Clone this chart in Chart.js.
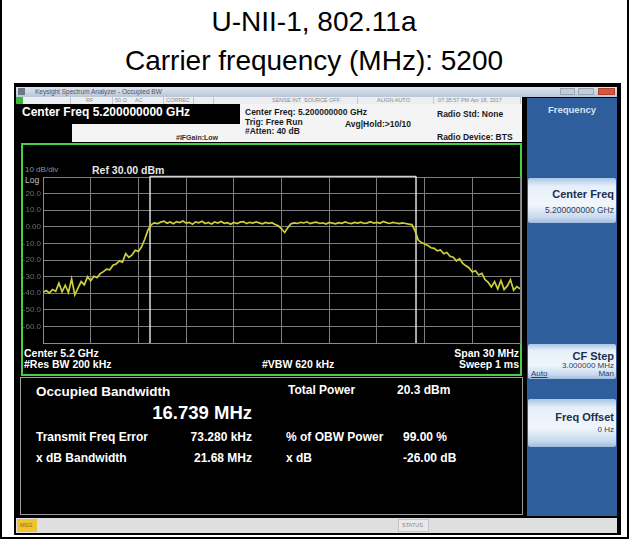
<!DOCTYPE html>
<html>
<head>
<meta charset="utf-8">
<script src="https://cdn.jsdelivr.net/npm/chart.js@4/dist/chart.umd.min.js"></script>
<style>
  body { margin: 0; width: 629px; height: 539px; position: relative; background: #fff; overflow: hidden;
         font-family: 'Liberation Sans', Arial, sans-serif; }
  .box { position: absolute; box-sizing: border-box; }
  .lbl { position: absolute; white-space: nowrap; line-height: 1; transform: translateY(-50%); }
  .btn { position: absolute; box-sizing: border-box; left: 528px; width: 88px; border-radius: 2px;
         background: linear-gradient(#a9c6e6 0%, #e6eff9 18%, #f1f6fb 60%, #c6d9ee 88%, #9dbbe0 100%); }
  #plot { position: absolute; left: 20px; top: 170px; }
</style>
</head>
<body>
<canvas id="plot" width="502" height="180"></canvas>
<script>
// sweep: 5185 .. 5215 MHz (center 5.2 GHz, span 30 MHz), level in dBm
const sweepStart = 5185
const sweepStop = 5215
const sweepStep = 0.2
const levels = [
  -39.5, -38.4, -39.9, -37.8, -38.9, -34.0, -39.2, -35.2, -39.6, -31.5,
  -41.0, -37.0, -33.0, -35.0, -30.0, -32.5, -29.8, -30.6, -28.2, -27.0,
  -25.5, -25.9, -23.2, -22.4, -20.6, -21.3, -16.2, -18.4, -17.0, -14.1,
  -14.8, -12.0, -7.5, -2.0, 1.2, 2.4, 1.9, 2.8, 3.4, 2.1,
  2.9, 1.8, 3.1, 2.6, 3.5, 2.2, 2.7, 1.6, 3.0, 2.4,
  3.3, 2.0, 2.6, 1.7, 2.9, 2.3, 3.2, 2.1, 2.5, 1.5,
  2.6, 2.0, 2.8, 3.1, 1.9, 2.7, 2.2, 2.9, 2.4, 1.8,
  2.6, 2.1, 2.5, 1.4, 0.6, -1.2, -3.4, -0.5, 1.8, 2.4,
  2.0, 2.7, 2.3, 3.0, 1.9, 2.5, 2.8, 2.0, 2.4, 1.7,
  2.6, 2.2, 1.8, 2.5, 2.1, 2.9, 2.3, 1.9, 2.6, 2.2,
  2.8, 2.0, 2.4, 3.1, 2.2, 2.7, 2.1, 3.2, 2.5, 2.0,
  2.6, 2.3, 1.9, 2.4, 2.0, 1.6, 1.3, -2.5, -8.0, -9.5,
  -10.4, -11.2, -12.6, -13.0, -14.5, -14.0, -16.2, -15.5, -17.8, -18.3,
  -20.5, -19.2, -22.0, -23.5, -24.8, -27.2, -26.5, -29.0, -28.0, -31.8,
  -33.5, -36.2, -33.0, -37.5, -32.4, -37.8, -35.6, -31.9, -38.2, -36.0,
  -37.4
]
// occupied bandwidth edges (MHz), 16.739 MHz apart
const obwEdges = [5191.73, 5208.46]
const refLevel = 30
const bottomLevel = -70
// y tick labels from the top line (ref) down to the bottom line
const yTickLabels = ['', '20.0', '10.0', '0.00', '-10.0', '-20.0', '-30.0', '-40.0', '-50.0', '-60.0', '']

const FONT = "'Liberation Sans', Arial, sans-serif"

function box(x, y, w, h, style) {
  const d = document.createElement('div')
  d.className = 'box'
  d.style.left = x + 'px'; d.style.top = y + 'px'
  d.style.width = w + 'px'; d.style.height = h + 'px'
  Object.assign(d.style, style || {})
  document.body.appendChild(d)
  return d
}

function label(text, x, y, size, color, bold, align) {
  const d = document.createElement('div')
  d.className = 'lbl'
  d.textContent = text
  d.style.top = y + 'px'
  d.style.fontSize = size + 'px'
  d.style.color = color
  d.style.fontWeight = bold ? 'bold' : 'normal'
  if (align === 'right') d.style.right = (629 - x) + 'px'
  else if (align === 'center') { d.style.left = x + 'px'; d.style.transform = 'translate(-50%,-50%)' }
  else d.style.left = x + 'px'
  document.body.appendChild(d)
  return d
}

// outer frame + titles
box(0, -4, 629, 543, {border: '2px solid #000', borderTop: 'none'})
label('U-NII-1, 802.11a', 314, 22, 28, '#000', false, 'center')
label('Carrier frequency (MHz): 5200', 314, 61, 28, '#000', false, 'center')

// analyzer screenshot
box(14, 83, 607, 452, {background: '#000'})
box(16, 87, 601, 10, {background: 'linear-gradient(#dde5ef,#b9c6d7)'})
box(18, 88, 7, 7, {background: '#6d7785'})
label('Keysight Spectrum Analyzer - Occupied BW', 35, 92, 6.5, '#4b5566')
box(560, 88, 15, 7, {background: '#c3ccd8', border: '1px solid #9aa6b6'})
box(578, 88, 16, 7, {background: '#c3ccd8', border: '1px solid #9aa6b6'})
box(598, 88, 17, 7, {background: '#d7553c', border: '1px solid #b04030'})

// status row
box(16, 97, 506, 7, {background: '#eceef1'})
box(16, 97, 7, 7, {background: '#39b639'})
for (const sx of [70, 112, 163, 193, 213, 357, 433, 520]) box(sx, 97, 1, 7, {background: '#c4c7cc'})
label('RF', 86, 100.5, 5.5, '#8a8a8a')
label('50 Ω', 115, 100.5, 5.5, '#8a8a8a')
label('AC', 135, 100.5, 5.5, '#8a8a8a')
label('CORREC', 166, 100.5, 5.5, '#8a8a8a')
label('SENSE:INT', 272, 100.5, 5.5, '#8a8a8a')
label('SOURCE OFF', 304, 100.5, 5.5, '#8a8a8a')
label('ALIGN AUTO', 377, 100.5, 5.5, '#8a8a8a')
label('07:35:57 PM Apr 18, 2017', 438, 100.5, 5.5, '#8a8a8a')

// meas bar
box(16, 104, 224, 20, {background: '#000'})
label('Center Freq 5.200000000 GHz', 22, 112, 12, '#fff', true)
box(72, 124, 168, 18, {background: '#f4f4f4'})
label('#IFGain:Low', 176, 137, 7, '#333', true)
box(240, 104, 282, 38, {background: '#f4f4f4'})
label('Center Freq: 5.200000000 GHz', 245, 112, 8.5, '#1a1a1a', true)
label('Trig: Free Run', 245, 122, 8.5, '#1a1a1a', true)
label('#Atten: 40 dB', 245, 131, 8.5, '#1a1a1a', true)
label('Avg|Hold:>10/10', 345, 124, 8.5, '#1a1a1a', true)
label('Radio Std: None', 437, 114, 8.5, '#1a1a1a', true)
label('Radio Device: BTS', 437, 137, 8.5, '#1a1a1a', true)

// graph window
box(21, 143, 501, 233, {border: '2px solid #43d143', background: '#000'})
label('10 dB/div', 25, 170, 8, '#8e8e8e')
label('Ref 30.00 dBm', 92, 170, 10.5, '#e6e6e6', true)
label('Log', 25, 180, 8.5, '#c0c0c0')
label('Center 5.2 GHz', 24, 353, 10.5, '#fff', true)
label('#Res BW 200 kHz', 24, 364, 10.5, '#fff', true)
label('#VBW 620 kHz', 262, 364, 10.5, '#fff', true)
label('Span 30 MHz', 519, 353, 10.5, '#fff', true, 'right')
label('Sweep  1 ms', 519, 364, 10.5, '#fff', true, 'right')

// results window
box(20, 377, 503, 138, {border: '1px solid #9c9c9c', background: '#000'})
label('Occupied Bandwidth', 36, 392, 13.5, '#fff', true)
label('16.739 MHz', 252, 413, 18.5, '#fff', true, 'right')
label('Total Power', 288, 390, 12, '#fff', true)
label('20.3 dBm', 397, 390, 12, '#fff', true)
label('Transmit Freq Error', 36, 437, 12, '#fff', true)
label('73.280 kHz', 252, 437, 12, '#fff', true, 'right')
label('% of OBW Power', 286, 437, 12, '#fff', true)
label('99.00 %', 403, 437, 12, '#fff', true)
label('x dB Bandwidth', 36, 458, 12, '#fff', true)
label('21.68 MHz', 252, 458, 12, '#fff', true, 'right')
label('x dB', 286, 458, 12, '#fff', true)
label('-26.00 dB', 403, 458, 12, '#fff', true)

// softkey panel
box(527, 98, 90, 418, {background: '#2e5e9b'})
label('Frequency', 572, 110, 9.5, '#d6e4f5', true, 'center')
const b1 = box(528, 178, 88, 45); b1.className = 'btn'
label('Center Freq', 614, 194, 11, '#1c2e4c', true, 'right')
label('5.200000000 GHz', 614, 210, 8.5, '#2b3c58', false, 'right')
const b2 = box(528, 344, 88, 35); b2.className = 'btn'
label('CF Step', 614, 356, 11, '#1c2e4c', true, 'right')
label('3.000000 MHz', 614, 366, 8, '#2b3c58', false, 'right')
label('Auto', 531, 374, 8, '#1d3f78').style.textDecoration = 'underline'
label('Man', 614, 374, 8, '#2b3c58', false, 'right')
const b3 = box(528, 399, 88, 48); b3.className = 'btn'
label('Freq Offset', 614, 417, 11, '#1c2e4c', true, 'right')
label('0 Hz', 614, 430, 8, '#2b3c58', false, 'right')

// bottom status bar
box(16, 518, 601, 15, {background: '#dedfe1'})
box(17, 519, 20, 13, {background: '#f1c232'})
label('MSG', 20, 525.5, 5.5, '#8a6a10')
box(398, 519, 31, 13, {border: '1px solid #c2c4c8', background: '#e8e9eb'})
label('STATUS', 402, 525.5, 5.5, '#888')

// trace
const trace = levels.map((v, i) => ({x: sweepStart + i * sweepStep, y: v}))
const obwTop = refLevel + 0.4

const data = {
  datasets: [
    {data: trace, borderColor: '#cfcf3c', borderWidth: 1.7, pointRadius: 0, tension: 0},
    {data: [{x: obwEdges[0], y: bottomLevel}, {x: obwEdges[0], y: obwTop}], borderColor: '#dedede', borderWidth: 1.5, pointRadius: 0, clip: false},
    {data: [{x: obwEdges[1], y: bottomLevel}, {x: obwEdges[1], y: obwTop}], borderColor: '#dedede', borderWidth: 1.5, pointRadius: 0, clip: false},
    {data: [{x: obwEdges[0], y: obwTop}, {x: obwEdges[1], y: obwTop}], borderColor: '#d0d0d0', borderWidth: 1.2, pointRadius: 0, clip: false}
  ]
}

const config = {
  type: 'line',
  data: data,
  options: {
    responsive: false,
    animation: false,
    devicePixelRatio: 1,
    layout: {padding: {top: 7, bottom: 7, left: 0, right: 2}},
    plugins: {legend: {display: false}, tooltip: {enabled: false}},
    scales: {
      x: {
        type: 'linear', min: sweepStart, max: sweepStop,
        ticks: {display: false, stepSize: 3},
        grid: {color: '#7e7e7e', drawTicks: false},
        border: {color: '#8a8a8a'},
        afterFit: s => { s.height = 0 }
      },
      y: {
        min: bottomLevel, max: refLevel,
        ticks: {
          stepSize: 10, color: '#6e6e6e', padding: 2,
          font: {size: 8, family: FONT},
          callback: v => yTickLabels[Math.round((refLevel - v) / 10)]
        },
        grid: {color: '#7e7e7e', drawTicks: false},
        border: {color: '#8a8a8a'},
        afterFit: s => { s.width = 23 }
      }
    }
  }
}

let ctx = document.getElementById('plot').getContext('2d')
new Chart(ctx, config)
document.body.appendChild(document.getElementById('plot'))
</script>
</body>
</html>
